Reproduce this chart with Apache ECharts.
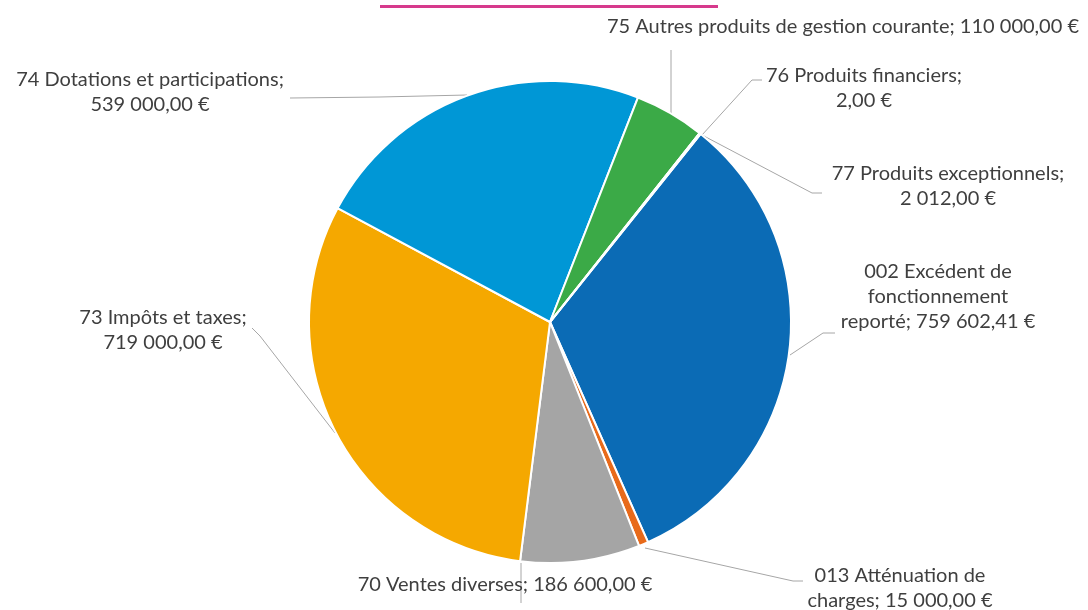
<!DOCTYPE html>
<html>
<head>
<meta charset="utf-8">
<script src="https://cdn.jsdelivr.net/npm/echarts@6/dist/echarts.min.js"></script>
<style>
  html, body { margin: 0; padding: 0; background: #fff; }
  #chart { width: 1088px; height: 610px; }
</style>
</head>
<body>
<div id="chart"></div>
<script>
// Data
const categories = [
  "002 Excédent de fonctionnement reporté",
  "013 Atténuation de charges",
  "70 Ventes diverses",
  "73 Impôts et taxes",
  "74 Dotations et participations",
  "75 Autres produits de gestion courante",
  "76 Produits financiers",
  "77 Produits exceptionnels",
];
const values = [759602.41, 15000, 186600, 719000, 539000, 110000, 2, 2012];

// Label text as wrapped in the picture
const labelHeads = [
  "002 Excédent de\nfonctionnement\nreporté; ",
  "013 Atténuation de\ncharges; ",
  "70 Ventes diverses; ",
  "73 Impôts et taxes;\n",
  "74 Dotations et participations;\n",
  "75 Autres produits de gestion courante; ",
  "76 Produits financiers;\n",
  "77 Produits exceptionnels;\n",
];

const colors = ["#0B6BB5", "#E86A1A", "#A5A5A5", "#F5A800", "#0097D6", "#3BAA47", "#7AB648", "#1F4E9C"];

// label placement (text centre) and leader lines, Excel style
const labelSpots = [
  { x: 938, y: 297, line: [[790, 355], [823, 333], [835, 333]] },
  { x: 900, y: 588, line: [[645, 548], [793, 581], [803, 581]] },
  { x: 505, y: 585, line: [[521, 563], [521, 580], [521, 603]] },
  { x: 163, y: 330, line: [[335, 433], [260, 336], [252, 328]] },
  { x: 150, y: 92, line: [[467, 95], [380, 97], [290, 98]] },
  { x: 843, y: 27, line: [[671, 113], [671, 80], [671, 50]] },
  { x: 864, y: 88, line: [[702, 135], [752, 80], [762, 80]] },
  { x: 948, y: 186, line: [[702, 135], [812, 193], [822, 193]] },
];

function fmt(n) {
  const parts = n.toFixed(2).split(".");
  const int = parts[0].replace(/\B(?=(\d{3})+(?!\d))/g, " ");
  return int + "," + parts[1] + " €";
}

const chart = echarts.init(document.getElementById("chart"));

const option = {
  animation: false,
  color: colors,
  graphic: [
    {
      type: "rect",
      left: 380,
      top: 5,
      shape: { width: 338, height: 3 },
      style: { fill: "#D63A8C" },
    },
  ],
  series: [
    {
      type: "pie",
      center: [550, 322],
      radius: 241,
      startAngle: 51.3,
      clockwise: true,
      avoidLabelOverlap: false,
      data: categories.map((name, i) => ({ name: name, value: values[i] })),
      itemStyle: { borderColor: "#fff", borderWidth: 2 },
      label: {
        show: true,
        position: "outside",
        color: "#3F3F3F",
        fontFamily: "Lato",
        fontSize: 20,
        lineHeight: 25,
        align: "center",
        formatter: (p) => labelHeads[p.dataIndex] + fmt(p.value),
      },
      labelLine: {
        show: true,
        lineStyle: { color: "#A6A6A6", width: 1 },
      },
      labelLayout: (params) => {
        const s = labelSpots[params.dataIndex];
        return {
          x: s.x,
          y: s.y,
          align: "center",
          verticalAlign: "middle",
          labelLinePoints: s.line,
        };
      },
      emphasis: { disabled: true },
    },
  ],
};

chart.setOption(option);
window.addEventListener("resize", () => chart.resize());
</script>
</body>
</html>
